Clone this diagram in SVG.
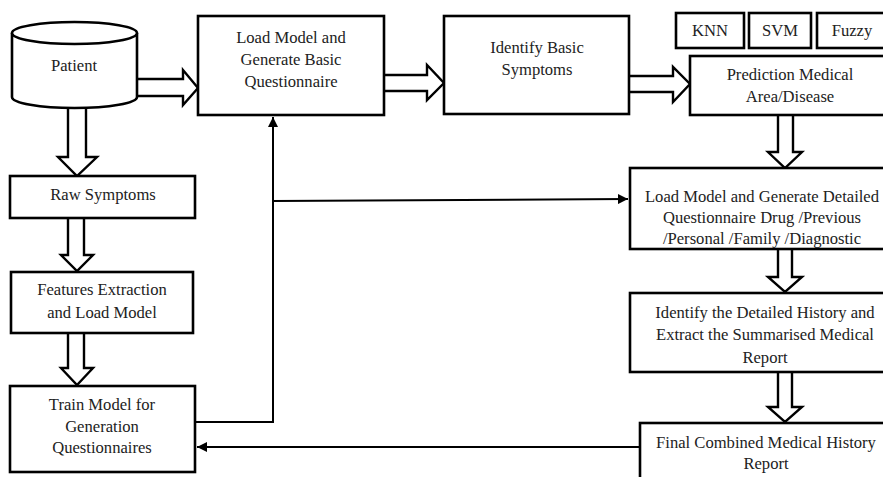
<svg xmlns="http://www.w3.org/2000/svg" width="883" height="477" viewBox="0 0 883 477">
<style>
.box{fill:#fff;stroke:#000;stroke-width:2.6}
.blk{fill:#fff;stroke:#000;stroke-width:2.4;stroke-linejoin:miter}
.ln{fill:none;stroke:#000;stroke-width:2}
text{font-family:"Liberation Serif","Times New Roman",serif;font-size:16.6px;fill:#222;text-anchor:middle}
</style>
<defs>
<marker id="ah" viewBox="0 0 10 10" refX="10" refY="5" markerWidth="5" markerHeight="5" orient="auto" markerUnits="strokeWidth">
<path d="M0,0 L10,5 L0,10 z" fill="#000"/>
</marker>
</defs>
<rect width="883" height="477" fill="#fff"/>
<g id="connectors">
<path class="blk" d="M137,79 L183,79 L183,70 L198,88 L183,105 L183,96 L137,96"/>
<path class="blk" d="M384,75 L427,75 L427,65 L444,83 L427,100 L427,91 L384,91"/>
<path class="blk" d="M629,76 L673,76 L673,67 L690,84 L673,102 L673,92 L629,92"/>
<path class="blk" d="M68,106 L68,157 L58,157 L77,176 L97,157 L86,157 L86,106"/>
<path class="blk" d="M68,218 L68,255 L61,255 L77,271 L93,255 L84,255 L84,218"/>
<path class="blk" d="M68,333 L68,368 L61,368 L77,385 L93,368 L84,368 L84,333"/>
<path class="blk" d="M778,115 L778,152 L768,152 L785,168 L802,152 L793,152 L793,115"/>
<path class="blk" d="M778,249 L778,277 L768,277 L785,292 L802,277 L792,277 L792,249"/>
<path class="blk" d="M778,372 L778,407 L768,407 L785,422 L802,407 L792,407 L792,372"/>
<path class="ln" d="M195,422 L273,422 L273,117" marker-end="url(#ah)"/>
<path class="ln" d="M273,201 L628,199" marker-end="url(#ah)"/>
<path class="ln" d="M640,447 L197,447" marker-end="url(#ah)"/>
</g>
<g id="patient">
<path class="box" d="M12,33 L12,97 A62.5,11 0 0 0 137,97 L137,33"/>
<ellipse class="box" cx="74.5" cy="33" rx="62.5" ry="11"/>
<text x="74" y="71">Patient</text>
</g>
<g id="load-basic">
<rect class="box" x="198" y="16" width="186" height="99"/>
<text x="291" y="43">Load Model and</text>
<text x="291" y="65">Generate Basic</text>
<text x="291" y="87">Questionnaire</text>
</g>
<g id="identify-basic">
<rect class="box" x="444" y="16" width="185" height="98"/>
<text x="537" y="53">Identify Basic</text>
<text x="537" y="75">Symptoms</text>
</g>
<g id="knn">
<rect class="box" x="676" y="13" width="68" height="35"/>
<text x="710" y="36">KNN</text>
</g>
<g id="svm">
<rect class="box" x="749" y="13" width="62" height="35"/>
<text x="780" y="36">SVM</text>
</g>
<g id="fuzzy">
<rect class="box" x="817" y="13" width="70" height="35"/>
<text x="852" y="36">Fuzzy</text>
</g>
<g id="prediction">
<rect class="box" x="690" y="56" width="200" height="59"/>
<text x="790" y="80">Prediction Medical</text>
<text x="790" y="102">Area/Disease</text>
</g>
<g id="load-detailed">
<rect class="box" x="630" y="168" width="260" height="81"/>
<text x="762" y="202">Load Model and Generate Detailed</text>
<text x="762" y="223">Questionnaire Drug /Previous</text>
<text x="762" y="244">/Personal /Family /Diagnostic</text>
</g>
<g id="identify-detailed">
<rect class="box" x="630" y="293" width="260" height="79"/>
<text x="765" y="318">Identify the Detailed History and</text>
<text x="765" y="340">Extract the Summarised Medical</text>
<text x="765" y="363">Report</text>
</g>
<g id="final">
<rect class="box" x="640" y="423" width="250" height="70"/>
<text x="766" y="448">Final Combined Medical History</text>
<text x="766" y="469">Report</text>
</g>
<g id="raw">
<rect class="box" x="10" y="176" width="185" height="42"/>
<text x="103" y="200">Raw Symptoms</text>
</g>
<g id="features">
<rect class="box" x="11" y="272" width="182" height="61"/>
<text x="102" y="295">Features Extraction</text>
<text x="102" y="318">and Load Model</text>
</g>
<g id="train">
<rect class="box" x="10" y="386" width="185" height="86"/>
<text x="102" y="410">Train Model for</text>
<text x="102" y="432">Generation</text>
<text x="102" y="453">Questionnaires</text>
</g>
</svg>
